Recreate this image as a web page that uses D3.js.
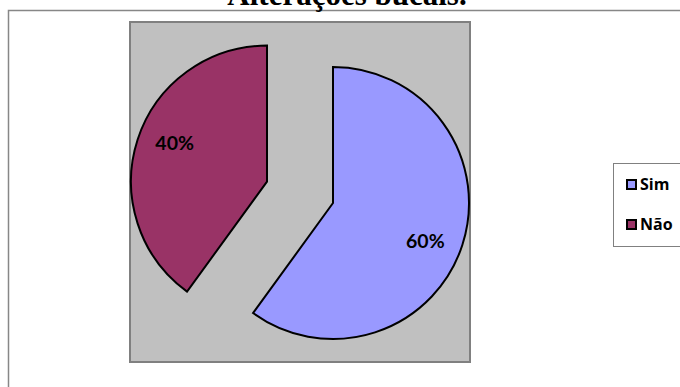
<!DOCTYPE html>
<html>
<head>
<meta charset="utf-8">
<script src="https://cdn.jsdelivr.net/npm/d3@7"></script>
<style>
  html, body { margin: 0; padding: 0; background: #fff; overflow: hidden; }
  svg { display: block; }
</style>
</head>
<body>
<svg id="chart" width="680" height="387"></svg>
<script>
// Data
const categories = ["Sim", "Não"];
const values = [60, 40];
const sliceColors = ["#9999ff", "#993366"];
const titleText = "Alterações bucais.";

const svg = d3.select("#chart");

// Outer chart frame (extends past the window on right and bottom)
svg.append("rect")
  .attr("x", 8.5).attr("y", 10.5)
  .attr("width", 700).attr("height", 400)
  .attr("fill", "#fff")
  .attr("stroke", "#878787").attr("stroke-width", 1.5);

// Title
svg.append("text")
  .attr("x", 347).attr("y", 5)
  .attr("text-anchor", "middle")
  .attr("font-family", "'Liberation Serif', 'Times New Roman', serif")
  .attr("font-weight", "bold")
  .attr("font-size", 31)
  .attr("fill", "#000")
  .text(titleText);

// Plot area
const plot = { x: 130, y: 22, w: 340, h: 340 };
svg.append("rect")
  .attr("x", plot.x).attr("y", plot.y)
  .attr("width", plot.w).attr("height", plot.h)
  .attr("fill", "#c0c0c0")
  .attr("stroke", "#808080").attr("stroke-width", 2);

// Pie
const cx = 300, cy = 192.3, radius = 136, explode = 34.7;
const pie = d3.pie().sort(null).value(d => d.value);
const arcs = pie(categories.map((c, i) => ({ name: c, value: values[i], color: sliceColors[i] })));
const arc = d3.arc().innerRadius(0).outerRadius(radius);
const total = d3.sum(values);

const g = svg.append("g").attr("transform", `translate(${cx},${cy})`);

arcs.forEach(a => {
  const mid = (a.startAngle + a.endAngle) / 2;
  const ox = explode * Math.sin(mid), oy = -explode * Math.cos(mid);
  const sg = g.append("g").attr("transform", `translate(${ox},${oy})`);
  sg.append("path")
    .attr("d", arc(a))
    .attr("fill", a.data.color)
    .attr("stroke", "#000")
    .attr("stroke-width", 2)
    .attr("stroke-linejoin", "miter");
  const la = mid + 0.08, lr = 100;
  sg.append("text")
    .attr("x", lr * Math.sin(la))
    .attr("y", -lr * Math.cos(la))
    .attr("dy", "0.36em")
    .attr("text-anchor", "middle")
    .attr("font-family", "Lato, 'Open Sans', sans-serif")
    .attr("font-weight", "bold")
    .attr("font-size", 19.5)
    .attr("fill", "#000")
    .text(Math.round(a.data.value / total * 100) + "%");
});

// Legend
const legend = svg.append("g");
legend.append("rect")
  .attr("x", 613.5).attr("y", 163.5)
  .attr("width", 90).attr("height", 83)
  .attr("fill", "#fff")
  .attr("stroke", "#808080").attr("stroke-width", 1);

const legY = d3.scalePoint().domain(categories).range([184.5, 224.5]);
categories.forEach((c, i) => {
  const y = legY(c);
  legend.append("rect")
    .attr("x", 627).attr("y", y - 4.5)
    .attr("width", 9).attr("height", 9)
    .attr("fill", sliceColors[i])
    .attr("stroke", "#000").attr("stroke-width", 2);
  legend.append("text")
    .attr("x", 640).attr("y", y + 5.5)
    .attr("font-family", "'Open Sans', Lato, sans-serif")
    .attr("font-weight", "bold")
    .attr("font-size", 16)
    .attr("fill", "#000")
    .text(c);
});
</script>
</body>
</html>
